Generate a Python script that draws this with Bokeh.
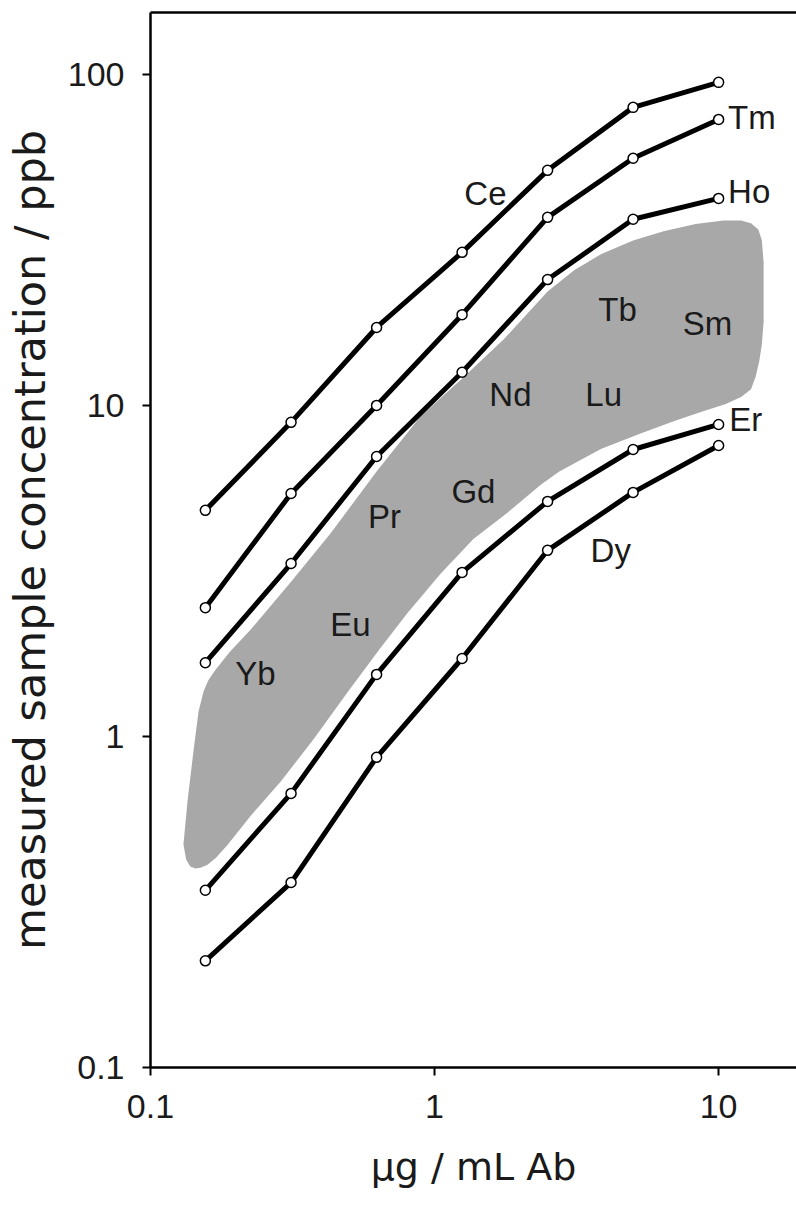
from bokeh.plotting import figure
from bokeh.models import FixedTicker, CustomJSTickFormatter, LogAxis, ColumnDataSource
from bokeh.core.properties import value
from bokeh.embed import file_html
from bokeh.resources import INLINE

# ---- data ----
conc = [0.156, 0.3125, 0.625, 1.25, 2.5, 5, 10]
ce = [4.82, 8.89, 17.2, 29.0, 51.3, 79.5, 94.6]
tm = [2.45, 5.42, 10.0, 18.8, 37.0, 55.8, 73.1]
ho = [1.67, 3.33, 7.01, 12.6, 24.0, 36.5, 42.2]
er = [0.343, 0.673, 1.54, 3.13, 5.13, 7.36, 8.76]
dy = [0.210, 0.362, 0.865, 1.72, 3.65, 5.46, 7.57]

# outline of the shaded band (clockwise from lower-left)
region_x = [0.1306, 0.135, 0.1416, 0.1476, 0.1538, 0.160, 0.1694, 0.190, 0.225, 0.313,
            0.430, 0.625, 0.893, 1.256, 1.76, 2.50, 3.10, 3.85, 5.00, 6.40, 8.30,
            10.4, 12.0, 13.0, 13.8, 14.2, 14.4, 14.4, 14.2, 13.9, 13.5, 13.0, 12.0,
            10.6, 8.50, 6.95, 5.31, 3.85, 2.74, 2.36, 1.81, 1.37, 1.05, 0.803, 0.645,
            0.494, 0.375, 0.287, 0.225, 0.1866, 0.170, 0.1588, 0.150, 0.144, 0.138, 0.1335]
region_y = [0.472, 0.637, 0.901, 1.19, 1.37, 1.48, 1.59, 1.80, 2.10, 2.94,
            4.10, 6.32, 9.27, 12.1, 15.9, 22.1, 25.6, 28.6, 31.5, 33.6, 35.3,
            36.2, 36.2, 35.5, 34.0, 31.5, 27.0, 17.9, 15.3, 13.6, 12.2, 11.2, 10.6,
            10.1, 9.5, 8.96, 8.22, 7.39, 6.30, 5.75, 4.75, 3.95, 3.10, 2.36, 1.85,
            1.36, 0.98, 0.73, 0.575, 0.47, 0.43, 0.410, 0.401, 0.399, 0.405, 0.425]

inner_labels = ["Ce", "Dy", "Tb", "Sm", "Nd", "Lu", "Gd", "Pr", "Eu", "Yb"]
inner_x = [1.51, 4.17, 4.41, 9.14, 1.85, 3.94, 1.37, 0.667, 0.506, 0.234]
inner_y = [43.7, 3.65, 19.5, 17.7, 10.8, 10.8, 5.50, 4.62, 2.18, 1.55]

end_labels = ["Tm", "Ho", "Er"]
end_x = [10.8, 10.8, 10.9]
end_y = [74.1, 44.4, 9.08]

x_ticks = [0.1, 1, 10]
y_ticks = [0.1, 1, 10, 100]
x_title = "\u03bcg / mL Ab"
y_title = "measured sample concentration / ppb"

# ---- figure ----
p = figure(width=796, height=1207, x_axis_type="log", y_axis_type="log",
           x_range=(0.1, 18.8), y_range=(0.1, 153.8),
           output_backend="svg", toolbar_location=None,
           min_border_left=150, min_border_right=0, min_border_top=12, min_border_bottom=140)
p.grid.visible = False
p.outline_line_color = None
p.background_fill_color = "white"
p.border_fill_color = "white"

p.patch(region_x, region_y, fill_color="#a8a8a8", line_color=None)

for ys in [ce, tm, ho, er, dy]:
    p.line(conc, ys, line_color="black", line_width=5)
    p.scatter(conc, ys, size=10, fill_color="white", line_color="black", line_width=1.5)

src_in = ColumnDataSource(dict(x=inner_x, y=inner_y, t=inner_labels))
p.text("x", "y", "t", source=src_in, text_font=value("Liberation Sans"), text_font_size="33px",
       text_align="center", text_baseline="middle", text_color="#1a1a1a")
src_end = ColumnDataSource(dict(x=end_x, y=end_y, t=end_labels))
p.text("x", "y", "t", source=src_end, text_font=value("Liberation Sans"), text_font_size="33px",
       text_align="left", text_baseline="middle", text_color="#1a1a1a")

fmt = "return tick.toString();"
for ax, ticks in [(p.xaxis[0], x_ticks), (p.yaxis[0], y_ticks)]:
    ax.ticker = FixedTicker(ticks=ticks)
    ax.formatter = CustomJSTickFormatter(code=fmt)
    ax.minor_tick_line_color = None
    ax.major_tick_out = 8
    ax.major_tick_in = 0
    ax.major_tick_line_width = 2
    ax.axis_line_width = 2.5
    ax.major_label_text_font = "Liberation Sans"
    ax.major_label_text_font_size = "34px"
    ax.major_label_text_color = "#1a1a1a"

p.xaxis.major_label_standoff = 19
p.yaxis.major_label_standoff = 18

p.xaxis.axis_label = x_title
p.yaxis.axis_label = y_title
for ax in [p.xaxis[0], p.yaxis[0]]:
    ax.axis_label_text_font = "DejaVu Sans"
    ax.axis_label_text_font_style = "normal"
    ax.axis_label_text_color = "#1a1a1a"
p.xaxis.axis_label_standoff = 24
p.yaxis.axis_label_standoff = 10
p.xaxis.axis_label_text_font_size = "38px"
p.yaxis.axis_label_text_font_size = "43px"

top = LogAxis(ticker=FixedTicker(ticks=[]), major_label_text_font_size="0px",
              major_tick_line_color=None, minor_tick_line_color=None,
              major_tick_out=0, major_tick_in=0, major_label_standoff=0,
              axis_line_width=2.5)
p.add_layout(top, "above")

open("out.html", "w").write(file_html(p, INLINE))
